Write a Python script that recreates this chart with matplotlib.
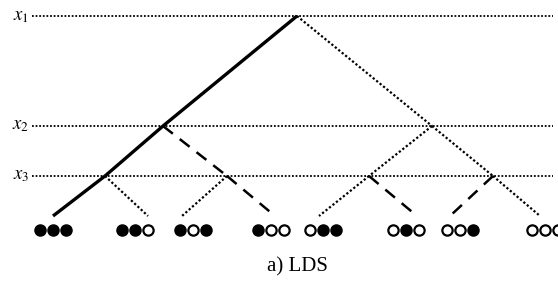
import matplotlib
matplotlib.use("Agg")
import matplotlib.pyplot as plt

plt.rcParams['font.family'] = ['Liberation Serif', 'DejaVu Serif']
plt.rcParams['mathtext.fontset'] = 'stix'

# levels (pixel rows) and labels
level_y = [16, 126, 176]
level_labels = [r'$x_1$', r'$x_2$', r'$x_3$']
leaf_y = 216

# node columns per depth
root_x = 297
lvl2_x = [163, 432]
lvl3_x = [105, 227, 369, 493]
leaf_x = [53, 148, 182, 275, 319, 417, 450, 540]

# edge styles: (parent depth, parent index, child index, style)
edges = [
    (0, 0, 0, 'solid'), (0, 0, 1, 'dot'),
    (1, 0, 0, 'solid'), (1, 0, 1, 'dash'),
    (1, 1, 2, 'dot'), (1, 1, 3, 'dot'),
    (2, 0, 0, 'solid'), (2, 0, 1, 'dot'),
    (2, 1, 2, 'dot'), (2, 1, 3, 'dash'),
    (2, 2, 4, 'dot'), (2, 2, 5, 'dash'),
    (2, 3, 6, 'dash'), (2, 3, 7, 'dot'),
]

# leaf assignments (1 = filled, 0 = open)
leaf_bits = ['111', '110', '101', '100', '011', '010', '001', '000']
group_x = [53, 135, 193, 271, 323, 406, 460, 545]
group_y = 230
spacing = 13

fig = plt.figure(figsize=(5.58, 2.82), dpi=100)
ax = fig.add_axes([0, 0, 1, 1])
ax.set_xlim(0, 558)
ax.set_ylim(282, 0)
ax.axis('off')

for y, lab in zip(level_y, level_labels):
    ax.plot([32, 553], [y, y], color='black', lw=1.3, dashes=(1, 1), zorder=1)
    ax.text(29, y, lab, fontsize=13.5, ha='right', va='center')

xs = [[root_x], lvl2_x, lvl3_x, leaf_x]
ys = level_y + [leaf_y]
styles = {
    'solid': dict(lw=2.4, linestyle='-'),
    'dash': dict(lw=1.8, dashes=(5, 3.5)),
    'dot': dict(lw=1.6, dashes=(1, 1)),
}
for d, p, c, st in edges:
    ax.plot([xs[d][p], xs[d + 1][c]], [ys[d], ys[d + 1]],
            color='black', solid_capstyle='butt', zorder=2, **styles[st])

for gx, bits in zip(group_x, leaf_bits):
    for k, b in enumerate(bits):
        ax.plot(gx + (k - 1) * spacing, group_y, 'o', ms=7.4,
                mfc='black' if b == '1' else 'white', mec='black', mew=1.6)

ax.text(297, 267, 'a) LDS', fontsize=15, ha='center', va='center')

fig.savefig('out.png', dpi=100)
